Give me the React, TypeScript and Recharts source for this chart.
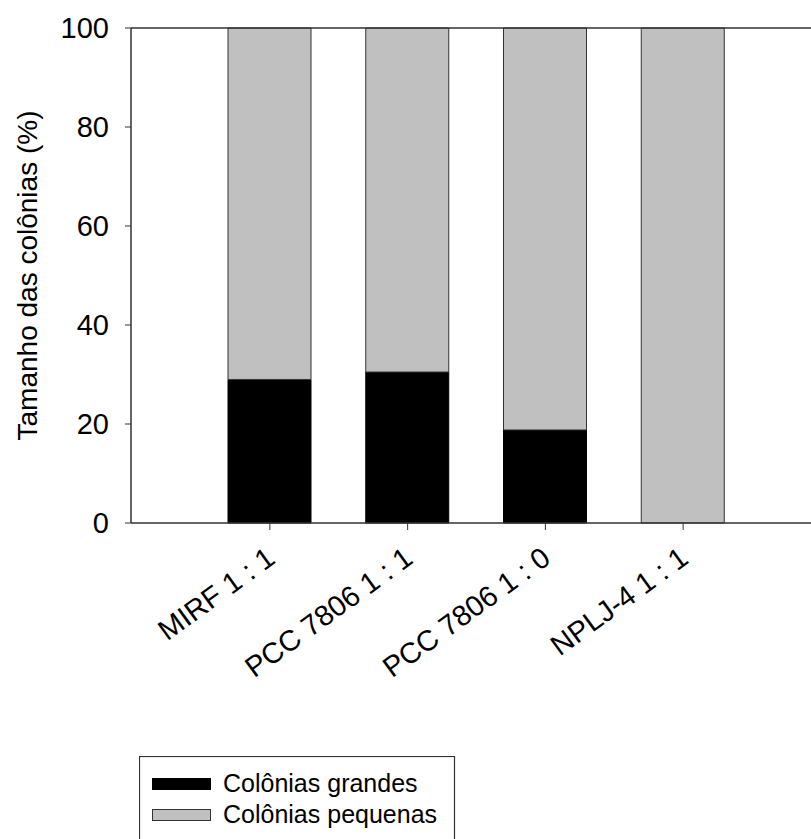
import React from 'react';
import { BarChart, Bar, XAxis, YAxis, ReferenceLine, Label } from 'recharts';

const categories = ['MIRF 1 : 1', 'PCC 7806 1 : 1', 'PCC 7806 1 : 0', 'NPLJ-4 1 : 1'];
const grandes = [29, 30.5, 18.8, 0];
const pequenas = [71, 69.5, 81.2, 100];
const yTicks = [0, 20, 40, 60, 80, 100];
const seriesNames = ['Colônias grandes', 'Colônias pequenas'];
const yTitle = 'Tamanho das colônias (%)';

const data = categories.map((name, i) => ({ name, grandes: grandes[i], pequenas: pequenas[i] }));

const FONT = '"Liberation Sans", Arial, sans-serif';
const GRAY = '#c0c0c0';
const LINE = '#333';

const XTick = (props: any) => {
  const { x, y, payload } = props;
  return (
    <g transform={`translate(${x + 7},${y + 30})`}>
      <text textAnchor="end" transform="rotate(-36)" fontSize={29} fill="#000" fontFamily={FONT}>
        {payload.value}
      </text>
    </g>
  );
};

const YLabel = (props: any) => {
  const vb = props.viewBox || {};
  const cy = (vb.y || 0) + (vb.height || 0) / 2;
  return (
    <text
      x={37}
      y={cy}
      transform={`rotate(-90, 37, ${cy})`}
      textAnchor="middle"
      fontSize={28}
      fill="#000"
      fontFamily={FONT}
    >
      {yTitle}
    </text>
  );
};

const legendFills = ['#000', GRAY];

export default function App() {
  return (
    <div style={{ position: 'absolute', left: 0, top: 0, width: 811, height: 839, overflow: 'hidden', background: '#fff', fontFamily: FONT }}>
      <BarChart width={840} height={860} data={data} margin={{ top: 28, right: 0, bottom: 0, left: 0 }}>
        <XAxis
          dataKey="name"
          height={337}
          padding={{ left: 70, right: 88 }}
          tickSize={7}
          tickMargin={2}
          tick={<XTick />}
          axisLine={{ stroke: LINE, strokeWidth: 1.5 }}
          tickLine={{ stroke: LINE }}
          interval={0}
        />
        <YAxis
          width={131}
          domain={[0, 100]}
          ticks={yTicks}
          tickSize={6}
          tickMargin={16}
          axisLine={{ stroke: LINE, strokeWidth: 1.5 }}
          tickLine={{ stroke: LINE }}
          tick={{ fontSize: 29, fill: '#000', fontFamily: FONT }}
        >
          <Label content={<YLabel />} />
        </YAxis>
        <ReferenceLine y={100} stroke={LINE} strokeWidth={1.5} />
        <Bar dataKey="grandes" stackId="a" fill="#000" stroke="#000" barSize={83} isAnimationActive={false} />
        <Bar dataKey="pequenas" stackId="a" fill={GRAY} stroke={LINE} barSize={83} isAnimationActive={false} />
      </BarChart>
      <svg width={330} height={100} style={{ position: 'absolute', left: 139, top: 756 }}>
        <rect x={0.5} y={0.5} width={315} height={200} fill="#fff" stroke={LINE} strokeWidth={1.2} />
        {seriesNames.map((name, i) => (
          <g key={name}>
            <rect
              x={13.5}
              y={22.5 + i * 31}
              width={58}
              height={11}
              fill={legendFills[i]}
              stroke={i === 0 ? '#000' : LINE}
            />
            <text x={84} y={36 + i * 31} fontSize={25} fill="#000" fontFamily={FONT}>
              {name}
            </text>
          </g>
        ))}
      </svg>
    </div>
  );
}
